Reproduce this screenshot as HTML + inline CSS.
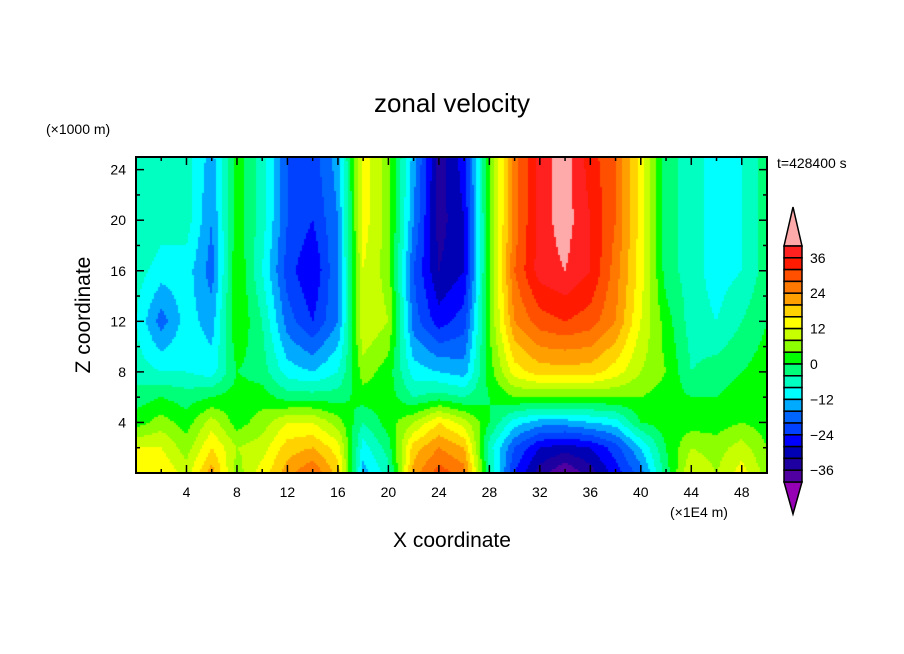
<!DOCTYPE html>
<html><head><meta charset="utf-8"><style>
body{margin:0;background:#fff;width:904px;height:654px;overflow:hidden;position:relative;font-family:"Liberation Sans",sans-serif}
#cv{position:absolute;left:136px;top:157px}
svg{position:absolute;left:0;top:0}
text{font-family:"Liberation Sans",sans-serif;fill:#000}
</style></head><body>
<canvas id="cv" width="631" height="316"></canvas>
<svg id="sv" width="904" height="654">
<text x="452" y="112" font-size="26" text-anchor="middle">zonal velocity</text>
<text x="46" y="134" font-size="14">(×1000 m)</text>
<text x="452" y="547" font-size="21" text-anchor="middle">X coordinate</text>
<text x="90" y="315" font-size="21" text-anchor="middle" transform="rotate(-90 90 315)">Z coordinate</text>
<text x="670" y="517" font-size="14">(×1E4 m)</text>
<text x="777" y="168" font-size="14">t=428400 s</text>
<g id="axes"></g>
<g id="cbar"></g>
</svg>
<script>
const xCoords=[0,2,4,6,8,10,12,14,16,18,20,22,24,26,28,30,32,34,36,38,40,42,44,46,48,50];
const zLevels=[0,2,4,6,8,12,16,20,25];
const row_z0=[14,16,10,22,6,14,22,28,18,-14,-6,22,30,26,-4,-24,-34,-40,-34,-26,-18,-2,12,8,14,6];
const row_z2=[12,12,6,16,8,10,18,20,14,-10,-2,18,24,20,-6,-20,-28,-30,-28,-22,-12,0,8,6,10,4];
const row_z4=[2,6,2,10,2,6,12,12,6,-4,2,8,16,10,0,-10,-14,-14,-12,-10,0,2,2,2,4,2];
const row_z6=[-2,0,-2,0,2,2,-2,-2,-2,2,2,-4,-2,-4,0,4,4,4,4,4,4,2,0,0,2,2];
const row_z8=[-6,-8,-8,-10,0,-2,-10,-12,-8,6,2,-10,-12,-14,2,14,18,18,18,14,8,4,-4,-2,0,2];
const row_z12=[-8,-18,-10,-14,4,-4,-18,-24,-16,12,8,-18,-26,-22,4,24,30,32,30,24,12,2,-6,-8,-4,0];
const row_z16=[-6,-10,-10,-18,4,-8,-22,-28,-16,12,6,-20,-32,-28,4,28,38,40,36,26,14,-2,-6,-10,-8,-2];
const row_z20=[-4,-6,-6,-16,2,-6,-20,-24,-16,14,6,-16,-34,-28,4,26,38,42,36,28,14,-2,-6,-10,-8,-2];
const row_z25=[-4,-6,-6,-14,2,-6,-20,-22,-14,14,6,-14,-34,-26,4,26,38,42,34,28,14,-2,-6,-10,-8,-2];
const rows=[row_z0,row_z2,row_z4,row_z6,row_z8,row_z12,row_z16,row_z20,row_z25];
const xTicks=[4,8,12,16,20,24,28,32,36,40,44,48];
const zTicks=[4,8,12,16,20,24];
const cbLabels=[36,24,12,0,-12,-24,-36];
const cols=["#ff2020","#ff1a00","#ff5000","#ff7800","#ffa000","#ffd200","#ffff00","#c8ff00","#8cff00","#00ff00","#00ff78","#00ffc0","#00ffff","#00aaff","#0064ff","#0040ff","#0000ff","#0000b4","#1e00a0","#5000a0"];
const hiCol="#ffaaaa",loCol="#9600b4";
const X0=136,X1=767,Y0=157,Y1=473;
const sx=x=>X0+(x/50)*(X1-X0), sz=z=>Y1-(z/25)*(Y1-Y0);
function colorFor(v){if(v>=40)return hiCol;if(v<-40)return loCol;let i=Math.floor((40-v)/4);if(i<0)i=0;if(i>19)i=19;return cols[i];}
function seg(arr,v){for(let i=0;i<arr.length-1;i++){if(v<=arr[i+1])return [i,(v-arr[i])/(arr[i+1]-arr[i])];}return [arr.length-2,1];}
function val(x,z){const [i,tx]=seg(xCoords,x),[j,tz]=seg(zLevels,z);
const a=rows[j][i],b=rows[j][i+1],c=rows[j+1][i],d=rows[j+1][i+1];
return (a*(1-tx)+b*tx)*(1-tz)+(c*(1-tx)+d*tx)*tz;}
const cv=document.getElementById('cv'),ctx=cv.getContext('2d');
const W=cv.width,H=cv.height;
for(let py=0;py<H;py+=2){for(let px=0;px<W;px+=2){
const x=(px+1)/W*50,z=(H-py-1)/H*25;ctx.fillStyle=colorFor(val(x,z));ctx.fillRect(px,py,2,2);}}
const NS="http://www.w3.org/2000/svg";
function mk(t,a,p){const e=document.createElementNS(NS,t);for(const k in a)e.setAttribute(k,a[k]);p.appendChild(e);return e;}
const ax=document.getElementById('axes');
const fr=mk('rect',{x:X0,y:Y0,width:X1-X0,height:Y1-Y0,fill:'none',stroke:'#000','stroke-width':2},ax);


for(let x=2;x<50;x+=2){const L=x%4===0?8:4;
mk('line',{x1:sx(x),x2:sx(x),y1:Y1,y2:Y1-L,stroke:'#000','stroke-width':1.5},ax);
mk('line',{x1:sx(x),x2:sx(x),y1:Y0,y2:Y0+L,stroke:'#000','stroke-width':1.5},ax);}
for(let z=2;z<25;z+=2){const L=z%4===0?8:4;
mk('line',{x1:X0,x2:X0+L,y1:sz(z),y2:sz(z),stroke:'#000','stroke-width':1.5},ax);
mk('line',{x1:X1,x2:X1-L,y1:sz(z),y2:sz(z),stroke:'#000','stroke-width':1.5},ax);}
xTicks.forEach(v=>{const t=mk('text',{x:sx(v),y:497,'font-size':14,'text-anchor':'middle'},ax);t.textContent=v;

});
zTicks.forEach(v=>{const t=mk('text',{x:126,y:sz(v)+5,'font-size':14,'text-anchor':'end'},ax);t.textContent=v;

});
const cb=document.getElementById('cbar');
const CX0=784,CX1=802,CT=246,CB=482,bh=(CB-CT)/20;
const tu=mk('polygon',{points:`${CX0},${CT} ${CX1},${CT} ${(CX0+CX1)/2},207`,fill:hiCol,stroke:'#000','stroke-width':1.5},cb);


const td=mk('polygon',{points:`${CX0},${CB} ${CX1},${CB} ${(CX0+CX1)/2},514`,fill:loCol,stroke:'#000','stroke-width':1.5},cb);


cols.forEach((c,i)=>{const r=mk('rect',{x:CX0,y:CT+i*bh,width:CX1-CX0,height:bh,fill:c,stroke:'#000','stroke-width':1.5},cb);

});
cbLabels.forEach(v=>{const y=CT+(40-v)/4*bh;const t=mk('text',{x:810,y:y+5,'font-size':14},cb);t.textContent=v<0?'\u2212'+(-v):v;

});
</script>
</body></html>
